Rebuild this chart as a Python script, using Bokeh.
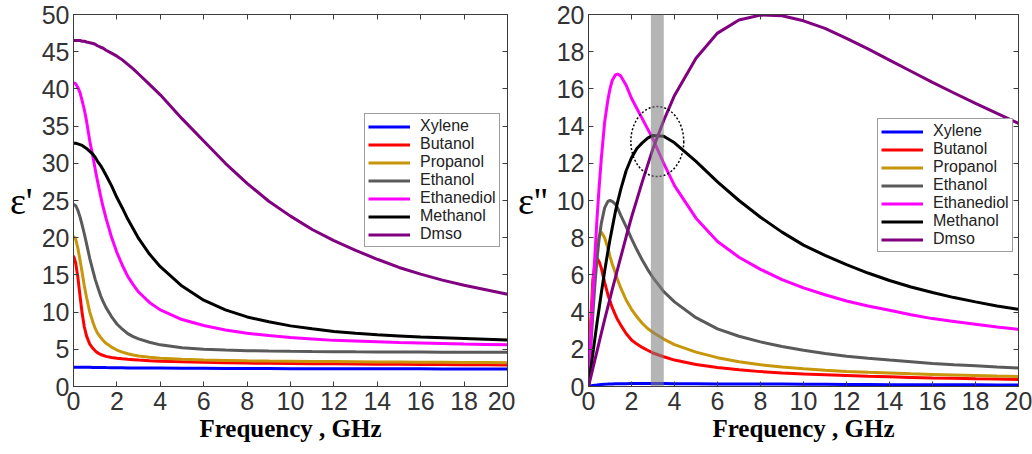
from bokeh.plotting import figure
from bokeh.models import Range1d, LinearAxis, Legend, LegendItem, BoxAnnotation, FixedTicker
from bokeh.layouts import row
from bokeh.embed import file_html
from bokeh.resources import INLINE

# ---------------- data ----------------
FREQ = [0, 0.1, 0.2, 0.3, 0.4, 0.5, 0.6, 0.75, 0.9, 1, 1.1, 1.25, 1.35, 1.5, 1.75, 2, 2.25, 2.5, 2.75, 3, 3.5, 4,
        5, 6, 7, 8, 9, 10, 11, 12, 13, 14, 15, 16, 17, 18, 19, 20]

SOLVENTS = ["Xylene", "Butanol", "Propanol", "Ethanol", "Ethanediol", "Methanol", "Dmso"]
COLORS = ["#0000ff", "#ff0000", "#c8960a", "#5a5a5a", "#ff00ff", "#000000", "#800080"]

# real part  epsilon'
REAL_XYLENE = [2.6, 2.6, 2.6, 2.6, 2.59, 2.59, 2.58, 2.58, 2.56, 2.56, 2.56, 2.55, 2.55, 2.54, 2.53, 2.52,
               2.51, 2.5, 2.5, 2.49, 2.48, 2.47,
               2.45, 2.44, 2.43, 2.42, 2.41, 2.4, 2.4, 2.39, 2.38, 2.38, 2.37, 2.37, 2.36, 2.36, 2.35, 2.35]
REAL_BUTANOL = [17.6, 16.6, 14.7, 12.2, 9.8, 8.0, 6.8, 5.7, 5.1, 4.8, 4.55, 4.3, 4.2, 4.05, 3.9, 3.8,
                3.72, 3.65, 3.6, 3.55, 3.47, 3.4,
                3.32, 3.25, 3.2, 3.15, 3.12, 3.1, 3.07, 3.05, 3.03, 3.0, 2.98, 2.96, 2.95, 2.93, 2.92, 2.9]
REAL_PROPANOL = [20.2, 19.8, 18.6, 17.0, 15.3, 13.5, 12.0, 10.0, 8.6, 7.8, 7.2, 6.6, 6.25, 5.8, 5.3, 4.9,
                 4.62, 4.4, 4.23, 4.1, 3.92, 3.8,
                 3.65, 3.55, 3.5, 3.45, 3.42, 3.4, 3.37, 3.35, 3.33, 3.3, 3.28, 3.26, 3.25, 3.23, 3.22, 3.2]
REAL_ETHANOL = [24.5, 24.3, 23.7, 22.8, 21.7, 20.5, 19.2, 17.2, 15.5, 14.4, 13.5, 12.2, 11.5, 10.6, 9.4, 8.4,
                7.7, 7.1, 6.7, 6.4, 5.95, 5.6,
                5.2, 5.0, 4.9, 4.82, 4.77, 4.73, 4.7, 4.68, 4.66, 4.65, 4.64, 4.63, 4.62, 4.61, 4.6, 4.6]
REAL_ETHANEDIOL = [40.8, 40.7, 40.2, 39.5, 38.4, 37.2, 35.7, 33.0, 30.8, 29.2, 27.7, 25.6, 24.3, 22.6, 20.1, 18.0,
                   16.3, 14.8, 13.7, 12.7, 11.3, 10.3,
                   9.0, 8.2, 7.6, 7.15, 6.85, 6.6, 6.4, 6.2, 6.1, 6.0, 5.9, 5.85, 5.78, 5.7, 5.65, 5.6]
REAL_METHANOL = [32.7, 32.7, 32.6, 32.5, 32.4, 32.2, 32.0, 31.6, 31.2, 30.8, 30.3, 29.7, 29.2, 28.4, 27.0, 25.4,
                 24.0, 22.5, 21.2, 19.9, 17.8, 16.1,
                 13.5, 11.6, 10.3, 9.35, 8.7, 8.15, 7.75, 7.4, 7.15, 6.95, 6.8, 6.65, 6.55, 6.45, 6.35, 6.25]
REAL_DMSO = [46.5, 46.5, 46.5, 46.5, 46.4, 46.4, 46.3, 46.2, 46.1, 46.0, 45.8, 45.6, 45.5, 45.2, 44.8, 44.4,
             43.9, 43.3, 42.7, 42.0, 40.6, 39.2,
             36.0, 33.0, 30.0, 27.3, 24.9, 22.9, 21.1, 19.6, 18.3, 17.1, 16.0, 15.1, 14.3, 13.6, 13.0, 12.4]

# imaginary part  epsilon''
IMAG_XYLENE = [0, 0.03, 0.05, 0.07, 0.08, 0.1, 0.11, 0.12, 0.13, 0.14, 0.14, 0.15, 0.15, 0.15, 0.15, 0.16,
               0.16, 0.16, 0.16, 0.16, 0.16, 0.15,
               0.15, 0.14, 0.14, 0.13, 0.13, 0.12, 0.12, 0.11, 0.11, 0.1, 0.1, 0.09, 0.09, 0.09, 0.08, 0.08]
IMAG_BUTANOL = [0, 3.4, 5.7, 6.7, 6.9, 6.7, 6.35, 5.6, 4.95, 4.6, 4.25, 3.85, 3.6, 3.3, 2.85, 2.5,
                2.28, 2.1, 1.95, 1.8, 1.6, 1.42,
                1.18, 1.02, 0.9, 0.8, 0.73, 0.67, 0.63, 0.59, 0.55, 0.52, 0.49, 0.46, 0.44, 0.41, 0.4, 0.38]
IMAG_PROPANOL = [0, 2.7, 5.0, 6.6, 7.6, 8.1, 8.3, 8.0, 7.45, 7.0, 6.6, 6.1, 5.75, 5.3, 4.65, 4.15,
                 3.75, 3.4, 3.12, 2.9, 2.55, 2.25,
                 1.85, 1.55, 1.33, 1.17, 1.05, 0.95, 0.87, 0.81, 0.76, 0.72, 0.68, 0.65, 0.62, 0.59, 0.56, 0.54]
IMAG_ETHANOL = [0, 2.0, 3.85, 5.5, 6.9, 8.0, 8.8, 9.6, 9.95, 10.0, 9.95, 9.8, 9.6, 9.2, 8.6, 7.95,
                7.35, 6.8, 6.3, 5.85, 5.1, 4.55,
                3.7, 3.1, 2.7, 2.4, 2.15, 1.95, 1.78, 1.63, 1.52, 1.42, 1.33, 1.24, 1.17, 1.11, 1.05, 1.0]
IMAG_ETHANEDIOL = [0, 2.5, 4.9, 7.1, 9.1, 10.8, 12.3, 14.2, 15.4, 16.0, 16.45, 16.75, 16.8, 16.7, 16.2, 15.5,
                   14.95, 14.4, 13.85, 13.3, 12.0, 10.8,
                   9.05, 7.8, 6.95, 6.3, 5.75, 5.3, 4.93, 4.6, 4.33, 4.1, 3.86, 3.65, 3.5, 3.35, 3.2, 3.07]
IMAG_METHANOL = [0, 0.87, 1.74, 2.6, 3.45, 4.25, 5.05, 6.2, 7.25, 7.9, 8.5, 9.4, 9.9, 10.6, 11.6, 12.3,
                 12.8, 13.1, 13.35, 13.5, 13.45, 13.1,
                 12.1, 11.0, 10.0, 9.1, 8.3, 7.6, 7.05, 6.55, 6.1, 5.7, 5.35, 5.05, 4.78, 4.55, 4.33, 4.15]
IMAG_DMSO = [0, 0.48, 0.96, 1.44, 1.92, 2.4, 2.88, 3.6, 4.28, 4.73, 5.2, 5.85, 6.3, 6.95, 8.05, 9.1,
             10.05, 11.0, 11.9, 12.8, 14.3, 15.65,
             17.65, 19.0, 19.7, 19.97, 19.93, 19.66, 19.25, 18.72, 18.15, 17.55, 16.95, 16.35, 15.78, 15.22, 14.68, 14.15]

REAL_SERIES = [REAL_XYLENE, REAL_BUTANOL, REAL_PROPANOL, REAL_ETHANOL, REAL_ETHANEDIOL, REAL_METHANOL, REAL_DMSO]
IMAG_SERIES = [IMAG_XYLENE, IMAG_BUTANOL, IMAG_PROPANOL, IMAG_ETHANOL, IMAG_ETHANEDIOL, IMAG_METHANOL, IMAG_DMSO]

X_TICKS = [0, 2, 4, 6, 8, 10, 12, 14, 16, 18, 20]
REAL_TICKS = [0, 5, 10, 15, 20, 25, 30, 35, 40, 45, 50]
IMAG_TICKS = [0, 2, 4, 6, 8, 10, 12, 14, 16, 18, 20]

BAND_START, BAND_END = 2.9, 3.5          # highlighted frequency band, GHz
MARK_F, MARK_E = 3.2, 13.17              # dashed circle centre
MARK_W, MARK_H = 2.46, 3.76              # dashed circle size (data units)

AX = "#3c3c3c"
TICK_FONT = "Liberation Sans"


def tick_only_axis(ticks):
    return LinearAxis(ticker=FixedTicker(ticks=ticks),
                      major_label_overrides={t: "" for t in ticks},
                      major_label_text_font_size="8px",
                      major_tick_in=5, major_tick_out=0, major_label_standoff=0,
                      minor_tick_line_color=None, axis_line_color=AX, major_tick_line_color=AX)


def make_panel(series, y_max, y_ticks, y_label, width, left_border, right_border, legend_loc):
    p = figure(width=width, height=452, output_backend="svg", toolbar_location=None,
               x_range=Range1d(0, 20), y_range=Range1d(0, y_max),
               min_border_left=left_border, min_border_right=right_border, min_border_top=14,
               min_border_bottom=66)
    p.background_fill_color = "white"
    p.border_fill_color = "white"
    p.grid.visible = False
    p.outline_line_color = AX
    p.outline_line_width = 1

    for ax in (p.xaxis[0], p.yaxis[0]):
        ax.major_tick_in = 5
        ax.major_tick_out = 0
        ax.minor_tick_line_color = None
        ax.axis_line_color = AX
        ax.major_tick_line_color = AX
        ax.major_label_text_font = TICK_FONT
        ax.major_label_text_font_size = "25px"
        ax.major_label_text_color = "#333333"

    p.xaxis[0].ticker = FixedTicker(ticks=X_TICKS)
    p.xaxis[0].major_label_standoff = 5
    p.xaxis[0].axis_label = "Frequency , GHz"
    p.xaxis[0].axis_label_text_font = "Liberation Serif"
    p.xaxis[0].axis_label_text_font_style = "bold"
    p.xaxis[0].axis_label_text_font_size = "25px"
    p.xaxis[0].axis_label_text_color = "#000000"
    p.xaxis[0].axis_label_standoff = 2

    p.yaxis[0].ticker = FixedTicker(ticks=y_ticks)
    p.yaxis[0].major_label_standoff = 4
    p.yaxis[0].axis_label = y_label
    p.yaxis[0].axis_label_orientation = "horizontal"
    p.yaxis[0].axis_label_text_font = "Liberation Serif"
    p.yaxis[0].axis_label_text_font_style = "normal"
    p.yaxis[0].axis_label_text_font_size = "38px"
    p.yaxis[0].axis_label_text_color = "#000000"
    p.yaxis[0].axis_label_standoff = 6

    p.add_layout(tick_only_axis(X_TICKS), "above")
    p.add_layout(tick_only_axis(y_ticks), "right")

    items = []
    for name, color, vals in zip(SOLVENTS, COLORS, series):
        r = p.line(FREQ, vals, line_color=color, line_width=3)
        items.append(LegendItem(label=name, renderers=[r]))

    legend = Legend(items=items, location=legend_loc)
    legend.border_line_color = AX
    legend.border_line_width = 1
    legend.background_fill_color = "white"
    legend.background_fill_alpha = 1
    legend.label_text_font = TICK_FONT
    legend.label_text_font_size = "16px"
    legend.label_text_color = "#222222"
    legend.glyph_width = 42
    legend.glyph_height = 17
    legend.label_height = 17
    legend.label_standoff = 10
    legend.spacing = 0
    legend.padding = 3
    legend.margin = 0
    p.add_layout(legend)
    return p


p1 = make_panel(REAL_SERIES, 50, REAL_TICKS, "\u03b5'", 515, 73, 8, (291, 139))
p2 = make_panel(IMAG_SERIES, 20, IMAG_TICKS, "\u03b5''", 517, 68, 14, (289, 134))

band = BoxAnnotation(left=BAND_START, right=BAND_END, fill_color="#808080", fill_alpha=0.58,
                     line_color=None)
p2.add_layout(band)
p2.ellipse(x=[MARK_F], y=[MARK_E], width=[MARK_W], height=[MARK_H], fill_color=None,
           line_color="black", line_width=1.5, line_dash="2 2")

layout = row(p1, p2)
open("out.html", "w").write(file_html(layout, INLINE))
